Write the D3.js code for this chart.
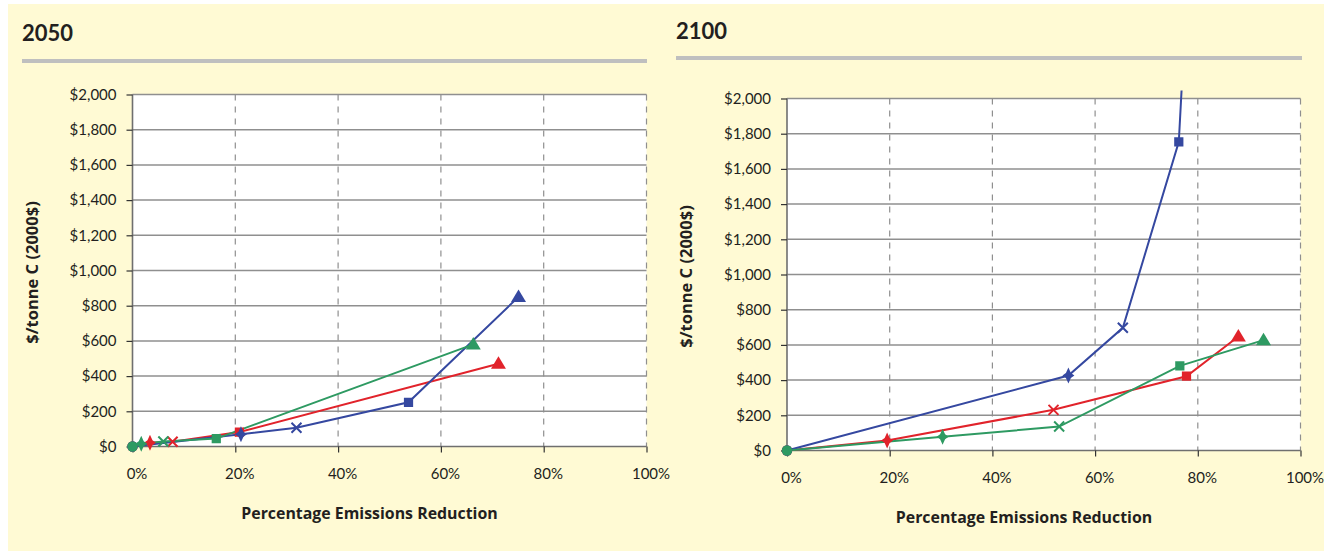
<!DOCTYPE html>
<html><head><meta charset="utf-8">
<script src="https://cdn.jsdelivr.net/npm/d3@7"></script>
<style>
html,body{margin:0;padding:0;background:#fff;}
svg{display:block;font-family:Lato,"Open Sans",sans-serif;}
</style></head>
<body>
<svg id="chart" width="1330" height="556"></svg>
<script>
// ---- data ----
const panelTitles = ["2050", "2100"];
const xTicks = [0, 20, 40, 60, 80, 100];
const yTicks = [0, 200, 400, 600, 800, 1000, 1200, 1400, 1600, 1800, 2000];
const markerOrder = ["circle", "diamond", "cross", "square", "triangle"];
const seriesNames = ["blue", "red", "green"];
const seriesColors = ["#3548A0", "#E1232B", "#2E9A62"];

// 2050: [percent reduction, $/tonne C]
const blue2050  = [[0, 0], [21.1, 70], [31.9, 107], [53.7, 251], [75.1, 850]];
const red2050   = [[0, 0], [3.4, 22], [7.8, 27], [20.8, 82], [71.2, 470]];
const green2050 = [[0, 0], [1.7, 15], [6.0, 28], [16.3, 45], [66.3, 580]];
// 2100
const blue2100  = [[0, 0], [54.8, 426], [65.4, 697], [76.3, 1754], [78.3, 2840]];
const red2100   = [[0, 0], [19.5, 57], [51.9, 231], [77.8, 422], [87.9, 648]];
const green2100 = [[0, 0], [30.3, 78], [53.0, 136], [76.5, 481], [92.8, 627]];

const panels = [
  {title: panelTitles[0], series: [red2050, blue2050, green2050], colors: [seriesColors[1], seriesColors[0], seriesColors[2]],
   left: 132.5, right: 646.5, top: 94.5, bottom: 446.5, titleX: 22, titleY: 41, ruleY: 61, ruleX0: 22, ruleX1: 647},
  {title: panelTitles[1], series: [red2100, blue2100, green2100], colors: [seriesColors[1], seriesColors[0], seriesColors[2]],
   left: 787, right: 1300.5, top: 98.5, bottom: 450.5, titleX: 676, titleY: 39, ruleY: 58, ruleX0: 676, ruleX1: 1302}
];

const svg = d3.select("#chart");
svg.append("rect").attr("x", 8).attr("y", 4).attr("width", 1316).attr("height", 547).attr("fill", "#FFFAD4");

function markerPath(type) {
  if (type === "circle") return d3.symbol(d3.symbolCircle, 85)();
  if (type === "square") return d3.symbol(d3.symbolSquare, 85)();
  if (type === "triangle") return "M0,-7.5L7.5,5L-7.5,5Z";
  if (type === "diamond") return "M0,-8L2.5,-2.5L6,0L2.5,2.5L0,8L-2.5,2.5L-6,0L-2.5,-2.5Z";
  if (type === "cross") return "M-5,-5L5,5M5,-5L-5,5";
  return "";
}

panels.forEach((p, pi) => {
  const g = svg.append("g");
  const x = d3.scaleLinear().domain([0, 100]).range([p.left, p.right]);
  const y = d3.scaleLinear().domain([0, 2000]).range([p.bottom, p.top]);

  g.append("text").attr("x", p.titleX).attr("y", p.titleY).text(p.title)
    .attr("font-size", 22).attr("font-weight", 700).attr("fill", "#231f20");
  g.append("rect").attr("x", p.ruleX0).attr("y", p.ruleY - 2).attr("width", p.ruleX1 - p.ruleX0).attr("height", 4).attr("fill", "#BFBFBF");

  g.append("rect").attr("x", p.left).attr("y", p.top).attr("width", p.right - p.left).attr("height", p.bottom - p.top).attr("fill", "#fff");

  // horizontal grid
  g.append("g").selectAll("line").data(yTicks.filter(t => t > 0)).join("line")
    .attr("x1", p.left).attr("x2", p.right).attr("y1", d => y(d)).attr("y2", d => y(d))
    .attr("stroke", "#8f8f8f").attr("stroke-width", 1.5);
  // vertical grid
  g.append("g").selectAll("line").data(xTicks.filter(t => t > 0)).join("line")
    .attr("x1", d => x(d)).attr("x2", d => x(d)).attr("y1", p.top).attr("y2", p.bottom)
    .attr("stroke", "#8f8f8f").attr("stroke-width", 1.2).attr("stroke-dasharray", "6,6");

  // axes
  const yAxis = g.append("g").attr("transform", `translate(${p.left},0)`)
    .call(d3.axisLeft(y).tickValues(yTicks).tickSize(6).tickPadding(10).tickFormat(d => "$" + d3.format(",")(d)));
  const xAxis = g.append("g").attr("transform", `translate(0,${p.bottom})`)
    .call(d3.axisBottom(x).tickValues(xTicks).tickSize(6).tickPadding(16).tickFormat(d => d + "%"));
  [yAxis, xAxis].forEach(a => {
    a.select(".domain").attr("stroke", "#6f6f6f").attr("stroke-width", 1.6);
    a.selectAll(".tick line").attr("stroke", "#333").attr("stroke-width", 1.2);
    a.selectAll("text").attr("font-size", 15).attr("fill", "#231f20").attr("font-family", "Lato, sans-serif");
  });
  yAxis.select(".domain").attr("d", `M-0,${p.bottom}V${p.top}`);
  xAxis.select(".domain").attr("d", `M${p.left},0H${p.right}`);
  xAxis.selectAll("text").attr("dx", 4);

  // axis titles
  g.append("text").attr("transform", `translate(${p.left - 95},${(p.top + p.bottom) / 2 + 2}) rotate(-90)`)
    .attr("text-anchor", "middle").attr("font-size", 16.5).attr("font-weight", 700).attr("fill", "#231f20")
    .attr("font-family", "'Open Sans', sans-serif")
    .text("$/tonne C (2000$)");
  g.append("text").attr("x", p.left + 237).attr("y", p.bottom + 72)
    .attr("text-anchor", "middle").attr("font-size", 15.9).attr("font-weight", 700).attr("fill", "#231f20")
    .attr("font-family", "'Open Sans', sans-serif")
    .text("Percentage Emissions Reduction");

  // clip for series
  const clipId = "clip" + pi;
  svg.append("clipPath").attr("id", clipId).append("rect")
    .attr("x", p.left - 10).attr("y", p.top - 8).attr("width", p.right - p.left + 20).attr("height", p.bottom - p.top + 20);

  const line = d3.line().x(d => x(d[0])).y(d => y(d[1]));
  const sg = g.append("g").attr("clip-path", `url(#${clipId})`);
  p.series.forEach((s, si) => {
    const col = p.colors[si];
    sg.append("path").datum(s).attr("d", line).attr("fill", "none").attr("stroke", col).attr("stroke-width", 2);
  });
  p.series.forEach((s, si) => {
    const col = p.colors[si];
    sg.append("g").selectAll("path").data(s).join("path")
      .attr("transform", d => `translate(${x(d[0])},${y(d[1])})`)
      .attr("d", (d, i) => markerPath(markerOrder[i]))
      .attr("fill", (d, i) => markerOrder[i] === "cross" ? "none" : col)
      .attr("stroke", (d, i) => markerOrder[i] === "cross" ? col : "none")
      .attr("stroke-width", 2);
  });
});
</script>
</body></html>
